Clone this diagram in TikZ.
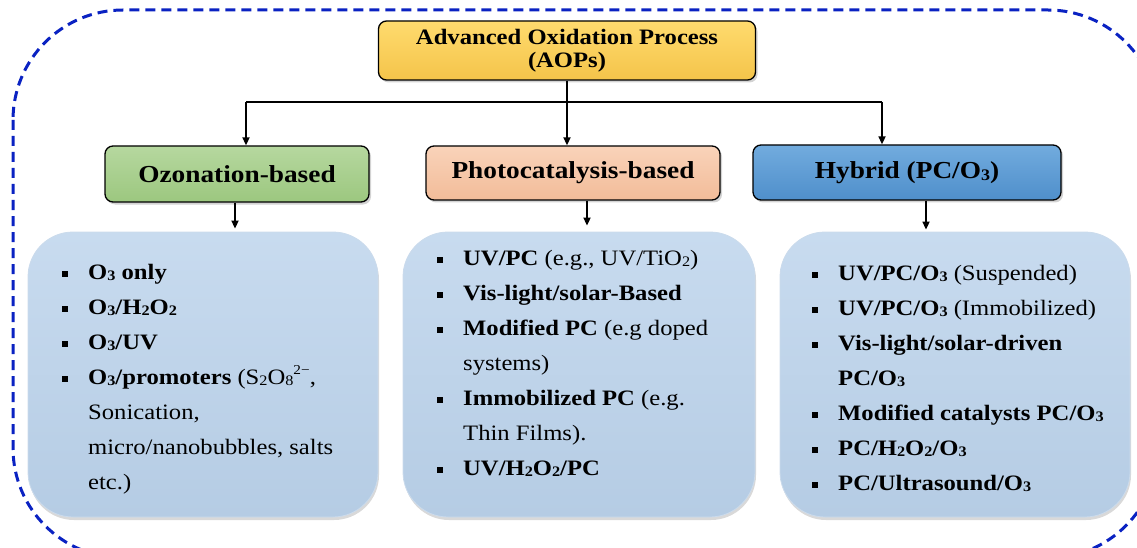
\documentclass[tikz,border=0pt]{standalone}
\usepackage{fontspec}
\setmainfont[FakeStretch=1.12]{Liberation Serif}
\usetikzlibrary{shadows,arrows.meta,calc}
\definecolor{aopY}{HTML}{FFDB6E}
\definecolor{aopYd}{HTML}{F4C44A}
\definecolor{ozG}{HTML}{A9D18E}
\definecolor{ozGd}{HTML}{9CC77F}
\definecolor{pcS}{HTML}{F8CBAD}
\definecolor{pcSd}{HTML}{F2BC99}
\definecolor{hyB}{HTML}{62A2DA}
\definecolor{hyBd}{HTML}{4F8FCB}
\definecolor{lbT}{HTML}{C8DBEF}
\definecolor{lbB}{HTML}{B5CCE4}
\definecolor{frameB}{HTML}{0A22C2}
\newcommand\bul{\makebox[26pt][l]{\rule[2pt]{6pt}{6pt}}}
\newcommand\ind{\hspace*{26pt}}
\newcommand\sbs[1]{\raisebox{-0.08em}{\scalebox{0.66}{#1}}}
\newcommand\sps[1]{\raisebox{0.45em}{\scalebox{0.62}{#1}}}
\begin{document}
\begin{tikzpicture}[x=1pt,y=-1pt,
  hdr/.style={draw=black, line width=1.3pt, rounded corners=8pt, inner sep=0pt,
    drop shadow={shadow xshift=2pt, shadow yshift=-2.5pt, opacity=0.35},
    font=\bfseries\fontsize{24.4}{27}\selectfont, align=center},
  lbox/.style={rounded corners=45pt, top color=lbT, bottom color=lbB,
    draw=lbB!70!white, line width=0.8pt,
    drop shadow={shadow xshift=1pt, shadow yshift=-3pt, opacity=0.3}},
  lst/.style={anchor=north west, inner sep=0pt, align=left,
    font=\fontsize{22}{35}\selectfont},
  arr/.style={line width=1.7pt, -{Triangle[length=8pt,width=7pt]}},
  conn/.style={line width=1.7pt},
  frame/.style={draw=frameB, line width=3pt, dash pattern=on 10pt off 6pt, rounded corners=110pt}]
\useasboundingbox (0,0) rectangle (1137,548);
\draw[frame] (13,10) rectangle (1158,558);

\node[hdr, top color=aopY, bottom color=aopYd, minimum width=377pt, minimum height=59pt,
  font=\bfseries\fontsize{22}{23.5}\selectfont] (aop) at (567,50.5)
  {Advanced Oxidation Process\\(AOPs)};
\node[hdr, top color=ozG!85!white, bottom color=ozGd, minimum width=264pt, minimum height=56pt] (oz) at (237,174) {Ozonation-based};
\node[hdr, top color=pcS!85!white, bottom color=pcSd, minimum width=294pt, minimum height=54pt] (pc) at (573,173) {Photocatalysis-based};
\node[hdr, top color=hyB!90!white, bottom color=hyBd, minimum width=308pt, minimum height=55pt] (hy) at (907,172.5) {Hybrid (PC/O\sbs{3})};

\node[lbox, minimum width=350pt, minimum height=285pt] (ozl) at (203,374.5) {};
\node[lbox, minimum width=352pt, minimum height=285pt] (pcl) at (579,374.5) {};
\node[lbox, minimum width=350pt, minimum height=285pt] (hyl) at (955,374.5) {};

\node[lst] (ozt) at (62,263) {\rule{0pt}{16pt}\bul\textbf{O\sbs{3} only}\\
\bul\textbf{O\sbs{3}/H\sbs{2}O\sbs{2}}\\
\bul\textbf{O\sbs{3}/UV}\\
\bul\textbf{O\sbs{3}/promoters} (S\sbs{2}O\sbs{8}\sps{2−},\\
\ind Sonication,\\
\ind micro/nanobubbles, salts\\
\ind etc.)};

\node[lst] (pct) at (437,249) {\rule{0pt}{16pt}\bul\textbf{UV/PC} (e.g., UV/TiO\sbs{2})\\
\bul\textbf{Vis-light/solar-Based}\\
\bul\textbf{Modified PC} (e.g doped\\
\ind systems)\\
\bul\textbf{Immobilized PC} (e.g.\\
\ind Thin Films).\\
\bul\textbf{UV/H\sbs{2}O\sbs{2}/PC}};

\node[lst] (hyt) at (812,264) {\rule{0pt}{16pt}\bul\textbf{UV/PC/O\sbs{3}} (Suspended)\\
\bul\textbf{UV/PC/O\sbs{3}} (Immobilized)\\
\bul\textbf{Vis-light/solar-driven}\\
\ind\textbf{PC/O\sbs{3}}\\
\bul\textbf{Modified catalysts PC/O\sbs{3}}\\
\bul\textbf{PC/H\sbs{2}O\sbs{2}/O\sbs{3}}\\
\bul\textbf{PC/Ultrasound/O\sbs{3}}};

\coordinate (jL) at (246,102);
\coordinate (jR) at (882,102);
\draw[conn] (jL) -- (jR);
\draw[arr] (aop.south) -- (aop.south |- pc.north);
\draw[arr] (jL) -- (jL |- oz.north);
\draw[arr] (jR) -- (jR |- hy.north);
\draw[arr, shorten >=3pt] ([xshift=-2pt]oz.south) -- ([xshift=-2pt]oz.south |- ozl.north);
\draw[arr, shorten >=6pt] ([xshift=14pt]pc.south) -- ([xshift=14pt]pc.south |- pcl.north);
\draw[arr, shorten >=2pt] ([xshift=19pt]hy.south) -- ([xshift=19pt]hy.south |- hyl.north);
\end{tikzpicture}
\end{document}
